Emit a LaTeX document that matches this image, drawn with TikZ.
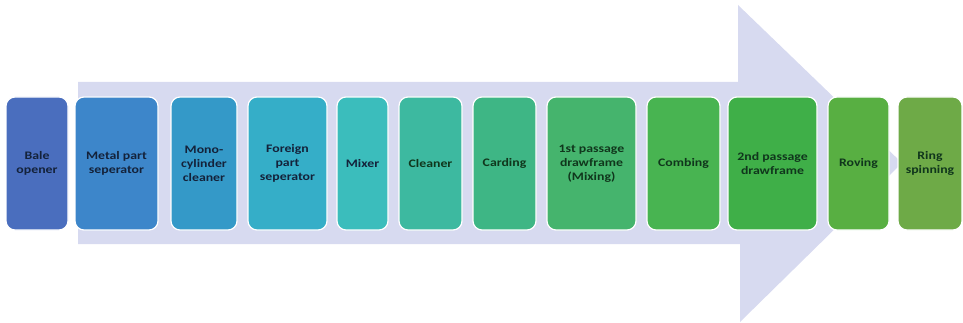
\documentclass[tikz,border=0pt]{standalone}
\usepackage{fontspec}
\newfontfamily\stagefont[FakeStretch=1.2]{Carlito}
\begin{document}
\begin{tikzpicture}[x=1pt,y=-1pt,
  stage/.style={rounded corners=9pt, draw=white, line width=1.2pt,
    minimum height=133pt, inner sep=0pt, align=center,
    font=\stagefont\bfseries\fontsize{11.5}{14}\selectfont},
  bluetext/.style={text=textblue},
  greentext/.style={text=textgreen}]
\definecolor{flow}{HTML}{D7DAF0}
\definecolor{textblue}{HTML}{14223A}
\definecolor{textgreen}{HTML}{10361C}
\definecolor{s1}{HTML}{4A6EBE}
\definecolor{s2}{HTML}{3D86CA}
\definecolor{s3}{HTML}{3499C8}
\definecolor{s4}{HTML}{35AEC8}
\definecolor{s5}{HTML}{3BBDBC}
\definecolor{s6}{HTML}{3DB9A0}
\definecolor{s7}{HTML}{3EB685}
\definecolor{s8}{HTML}{45B46D}
\definecolor{s9}{HTML}{48B451}
\definecolor{s10}{HTML}{3FAF48}
\definecolor{s11}{HTML}{58AF42}
\definecolor{s12}{HTML}{6EAA47}
\useasboundingbox (0,0) rectangle (963,323);
% process flow arrow in the background
\fill[flow] (78,82) -- (738,82) -- (738,5) -- (902,163) -- (740,322)
  -- (740,244) -- (78,244) -- cycle;
% process stages
\node[stage, fill=s1, bluetext, minimum width=62pt] (bale) at (37,163.5) {Bale\\opener};
\node[stage, fill=s2, bluetext, minimum width=83pt] (metal) at (116.5,163.5) {Metal part\\seperator};
\node[stage, fill=s3, bluetext, minimum width=66pt] (mono) at (204,163.5) {Mono-\\cylinder\\cleaner};
\node[stage, fill=s4, bluetext, minimum width=79pt] (foreign) at (287.5,163.5) {Foreign\\part\\seperator};
\node[stage, fill=s5, bluetext, minimum width=51pt] (mixer) at (362.5,163.5) {Mixer};
\node[stage, fill=s6, greentext, minimum width=63pt] (cleaner) at (430.5,163.5) {Cleaner};
\node[stage, fill=s7, greentext, minimum width=63pt] (carding) at (504.5,163.5) {Carding};
\node[stage, fill=s8, greentext, minimum width=89pt] (draw1) at (591.5,163.5) {1st passage\\drawframe\\(Mixing)};
\node[stage, fill=s9, greentext, minimum width=73pt] (combing) at (683.5,163.5) {Combing};
\node[stage, fill=s10, greentext, minimum width=89pt] (draw2) at (772.5,163.5) {2nd passage\\drawframe};
\node[stage, fill=s11, greentext, minimum width=61pt] (roving) at (858.5,163.5) {Roving};
\node[stage, fill=s12, greentext, minimum width=64pt] (ring) at (930,163.5) {Ring\\spinning};
\end{tikzpicture}
\end{document}
